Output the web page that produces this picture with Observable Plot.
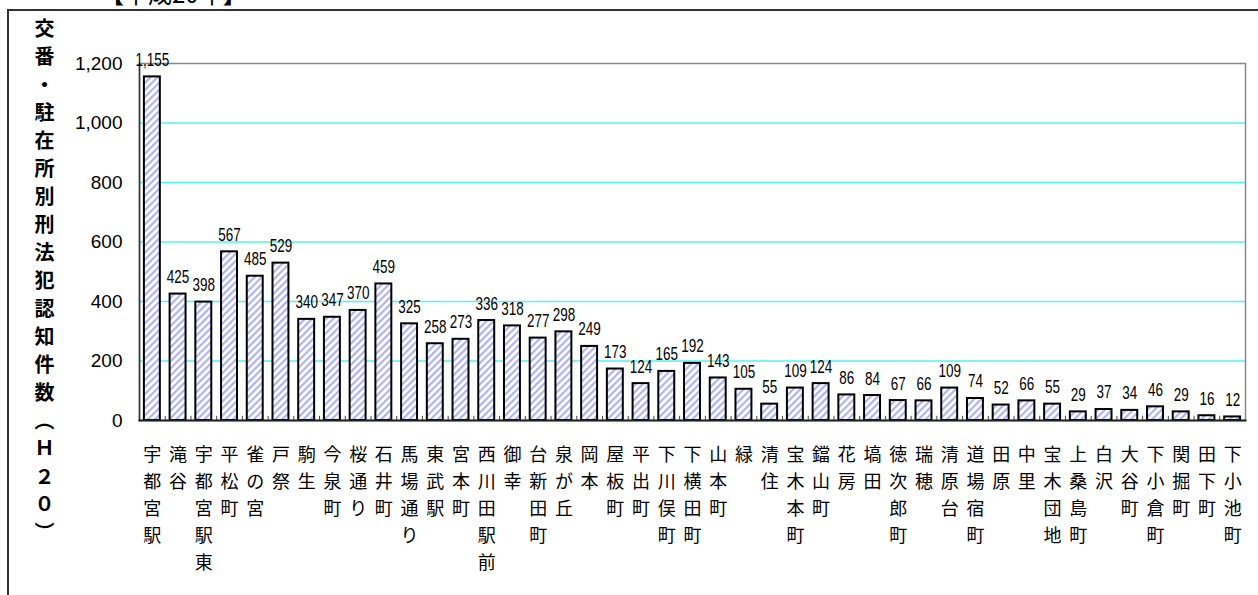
<!DOCTYPE html>
<html>
<head>
<meta charset="utf-8">
<script src="https://cdn.jsdelivr.net/npm/d3@7"></script>
<script src="https://cdn.jsdelivr.net/npm/@observablehq/plot@0.6"></script>
<style>
  html, body { margin: 0; padding: 0; background: #fff; }
  #wrap { position: relative; width: 1258px; height: 595px; overflow: hidden; background: #fff; }
  #border { position: absolute; left: 7px; top: 9px; width: 1400px; height: 800px; border-left: 2px solid #333; border-top: 2px solid #333; }
  #title { position: absolute; left: 100px; top: -25px; font: 24px "Noto Sans CJK JP", sans-serif; color: #000; white-space: nowrap; }
  #ylabel { position: absolute; left: 29px; top: 18px; width: 30px; line-height: 30px; writing-mode: vertical-rl; text-orientation: upright;
            font: bold 20px "Noto Sans CJK JP", sans-serif; letter-spacing: 8px; color: #000; }
  #chart { position: absolute; left: 0; top: 0; }
  .vlabel text { font-family: "Liberation Sans", Arial, sans-serif; }
  .yax text { font-family: "Liberation Sans", Arial, sans-serif; font-size: 19px; }
</style>
</head>
<body>
<div id="wrap">
  <div id="border"></div>
  <div id="title">【平成20年】</div>
  <div id="ylabel">交番・駐在所別刑法犯認知件数（Ｈ２０）</div>
  <div id="chart"></div>
</div>
<script>
const names = ["宇都宮駅","滝谷","宇都宮駅東","平松町","雀の宮","戸祭","駒生","今泉町","桜通り","石井町","馬場通り","東武駅","宮本町","西川田駅前","御幸","台新田町","泉が丘","岡本","屋板町","平出町","下川俣町","下横田町","山本町","緑","清住","宝木本町","鐺山町","花房","塙田","徳次郎町","瑞穂","清原台","道場宿町","田原","中里","宝木団地","上桑島町","白沢","大谷町","下小倉町","関掘町","田下町","下小池町"];
const values = [1155,425,398,567,485,529,340,347,370,459,325,258,273,336,318,277,298,249,173,124,165,192,143,105,55,109,124,86,84,67,66,109,74,52,66,55,29,37,34,46,29,16,12];
const yTicks = [0,200,400,600,800,1000,1200];
const gridLines = [200,400,600,800,1000];

const data = names.map((n, i) => ({name: n, value: values[i]}));
const step = (1258 - 139 - 13) / names.length;
const fmt = d3.format(",");

const chart = Plot.plot({
  width: 1258,
  height: 595,
  marginLeft: 139,
  marginRight: 13,
  marginTop: 63,
  marginBottom: 175,
  style: {background: "transparent", fontFamily: "Liberation Sans, Arial, sans-serif", color: "#000"},
  x: {domain: names, paddingInner: 0.38, paddingOuter: 0.19, label: null},
  y: {domain: [0, 1200], ticks: yTicks, label: null},
  marks: [
    Plot.ruleY(gridLines, {stroke: "#55f2f2", strokeWidth: 1.5}),
    Plot.frame({stroke: "#888", strokeWidth: 1.5}),
    Plot.barY(data, {x: "name", y: "value", fill: "url(#hatch)", stroke: "#000", strokeWidth: 2}),
    Plot.ruleX(names, {x: d => d, y1: 0, y2: 14, dx: -step / 2, stroke: "#444", strokeWidth: 1}),
    Plot.axisY({ticks: yTicks, tickSize: 0, tickPadding: 17, tickFormat: fmt, fontSize: 19, className: "yax", label: null}),
    Plot.frame({anchor: "left", stroke: "#333", strokeWidth: 1.5}),
    Plot.frame({anchor: "bottom", stroke: "#222", strokeWidth: 2}),
    Plot.axisX({tickSize: 0, tickPadding: 21, fontSize: 18, lineHeight: 1.5, label: null,
                fontFamily: "Noto Sans CJK JP, sans-serif",
                tickFormat: d => [...d].join("\n")}),
    Plot.text(data, {x: "name", y: "value", text: d => fmt(d.value), dy: -11, lineAnchor: "bottom",
                     fontSize: 19, className: "vlabel", fill: "#000"})
  ]
});

// hatch pattern definition
const svg = d3.select(chart);
const defs = svg.insert("defs", ":first-child");
const pat = defs.append("pattern")
  .attr("id", "hatch")
  .attr("patternUnits", "userSpaceOnUse")
  .attr("width", 5).attr("height", 5)
  .attr("patternTransform", "rotate(45)");
pat.append("rect").attr("width", 5).attr("height", 5).attr("fill", "#ffffff");
pat.append("rect").attr("width", 2.2).attr("height", 5).attr("fill", "#b0b3f2");

document.getElementById("chart").appendChild(chart);

// condense value labels (narrow-font look)
svg.selectAll(".vlabel text").each(function () {
  const w = this.getComputedTextLength();
  if (w > 0) {
    this.setAttribute("textLength", (w * 0.71).toFixed(1));
    this.setAttribute("lengthAdjust", "spacingAndGlyphs");
  }
});
</script>
</body>
</html>
